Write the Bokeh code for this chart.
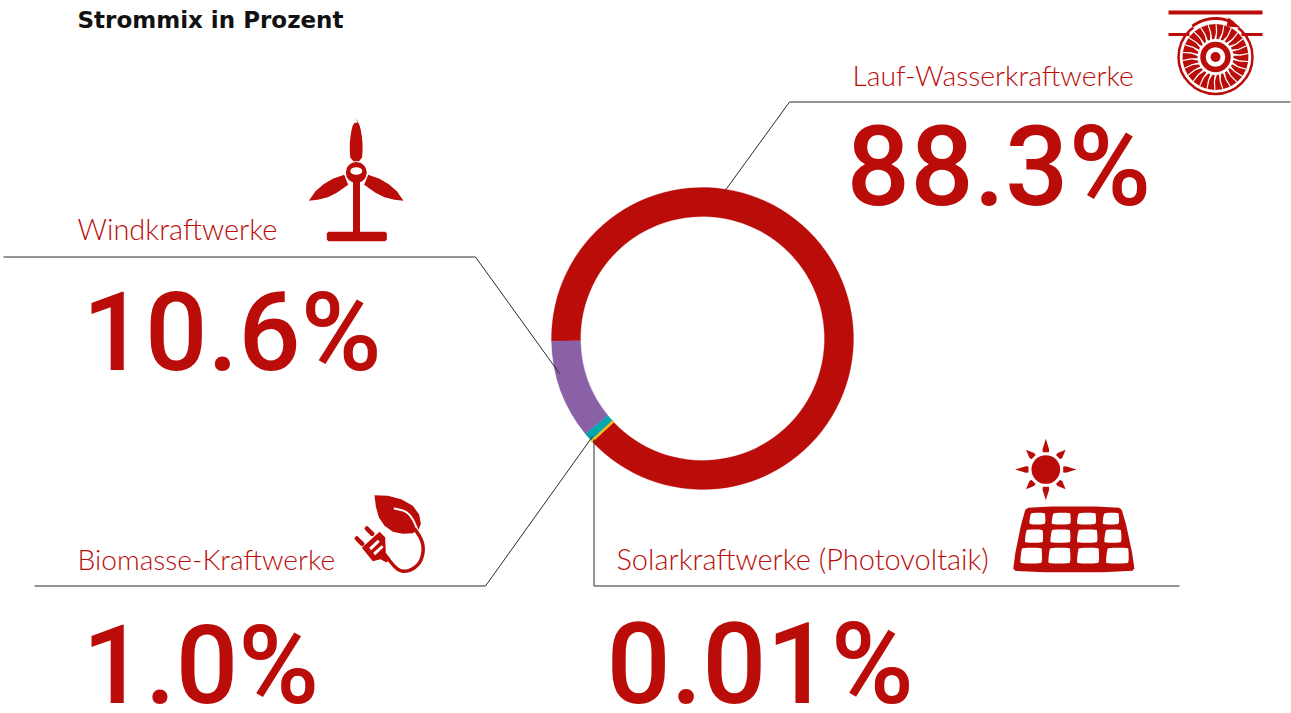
import numpy as np
from bokeh.plotting import figure
from bokeh.models import ColumnDataSource
from bokeh.core.properties import value
from bokeh.embed import file_html
from bokeh.resources import INLINE

W, H = 1291, 713
categories = ["Windkraftwerke", "Biomasse-Kraftwerke", "Solarkraftwerke (Photovoltaik)", "Lauf-Wasserkraftwerke"]
shares = [10.6, 1.0, 0.01, 88.3]
share_labels = ["10.6%", "1.0%", "0.01%", "88.3%"]
slice_colors = ["#8A60A6", "#00A6AE", "#F5B91E", "#BA0C09"]
RED = "#BA0C09"

p = figure(width=W, height=H, x_range=(1, W + 1), y_range=(-1, H - 1), x_axis_type=None, y_axis_type=None,
           output_backend="svg", toolbar_location=None, min_border=0, outline_line_color=None,
           background_fill_color="white", border_fill_color="white")
p.grid.visible = False

def Y(v):
    return H - np.asarray(v, dtype=float)

def smooth(pts, n=2, closed=True):
    pts = np.asarray(pts, dtype=float)
    for _ in range(n):
        a = pts if closed else pts[:-1]
        b = np.roll(pts, -1, axis=0) if closed else pts[1:]
        q = .75 * a + .25 * b
        r = .25 * a + .75 * b
        out = np.empty((2 * len(a), 2))
        out[0::2], out[1::2] = q, r
        if not closed:
            out = np.vstack([pts[0], out, pts[-1]])
        pts = out
    return pts

def poly(pts, ox=0, oy=0, k=1/3, color=RED, sm=0):
    pts = np.asarray(pts, dtype=float)
    if sm:
        pts = smooth(pts, sm)
    p.patch(ox + pts[:, 0] * k, Y(oy + pts[:, 1] * k), fill_color=color, line_color=None)

def stroke(pts, ox=0, oy=0, k=1/3, color=RED, w=3, sm=0):
    pts = np.asarray(pts, dtype=float)
    if sm:
        pts = smooth(pts, sm, closed=False)
    p.line(ox + pts[:, 0] * k, Y(oy + pts[:, 1] * k), line_color=color, line_width=w, line_cap="round", line_join="round")

# donut -------------------------------------------------------------------
vals = np.array(shares)
frac = np.cumsum(vals) / vals.sum() * 2 * np.pi
start0 = np.deg2rad(181)
starts = start0 + np.r_[0, frac[:-1]]
ends = start0 + frac
order = [3, 0, 1, 2]
src = ColumnDataSource(dict(s=starts[order], e=ends[order], c=[slice_colors[i] for i in order]))
p.annular_wedge(x=703, y=float(Y(339)), inner_radius=122, outer_radius=151, start_angle="s", end_angle="e",
                direction="anticlock", fill_color="c", line_color="c", line_width=0.3, source=src)
# the 0.01 % slice is only visible through its outline
p.annular_wedge(x=703, y=float(Y(339)), inner_radius=122, outer_radius=151,
                start_angle=[float(starts[2])], end_angle=[float(ends[2])], direction="anticlock",
                fill_color=slice_colors[2], line_color=slice_colors[2], line_width=2.6)

# leader lines ------------------------------------------------------------
lx = [[725, 790, 1291], [4, 476, 560], [35, 486, 593], [594.5, 594.5, 1180]]
ly = [[192, 102.5, 102.5], [257.5, 257.5, 374], [586.5, 586.5, 437], [440, 586.5, 586.5]]
p.multi_line(lx, [list(Y(v)) for v in ly], line_color="#2a2a2a", line_width=1)

# texts -------------------------------------------------------------------
p.text([78], Y([20]), text=["Strommix in Prozent"], text_font=value("DejaVu Sans"), text_font_style="bold",
       text_font_size="23px", text_color="#111111", text_baseline="alphabetic")
label_x = [853, 78, 78, 617]
label_y = [75, 229, 559, 559]
label_size = ["28.3px", "29px", "28.2px", "29px"]
label_text = [categories[3], categories[0], categories[1], categories[2]]
for x_, y_, s_, t_ in zip(label_x, label_y, label_size, label_text):
    p.text([x_], Y([y_]), text=[t_], text_font=value("Lato Light"), text_font_size=s_, text_color=RED,
           text_baseline="alphabetic")
big_x = [847, 83, 83, 607]
big_y = [167, 333, 666, 665]
big_size = ["112px", "110px", "110px", "113px"]
big_text = [share_labels[3], share_labels[0], share_labels[1], share_labels[2]]
for x_, y_, s_, t_ in zip(big_x, big_y, big_size, big_text):
    p.text([x_], Y([y_]), text=[t_], text_font=value("Roboto Medium"), text_font_size=s_, text_color=RED,
           text_baseline="alphabetic")

# turbine icon --------------------------------------------------------------
cx, cy = 1216, 57.5
p.quad(left=[1169, 1169, 1242], right=[1263, 1190, 1263], top=Y([11, 33.5, 33.5]), bottom=Y([15, 36.5, 36.5]),
       fill_color=RED, line_color=None)
p.circle(x=cx, y=float(Y(cy)), radius=37, fill_color=None, line_color=RED, line_width=2.5)
t = np.deg2rad(np.linspace(127, 52, 30))
p.line(cx + 38.5 * np.cos(t), Y(cy - 38.5 * np.sin(t)), line_color="white", line_width=7)
t = np.deg2rad(np.linspace(127, 62, 30))
p.line(cx + 38.5 * np.cos(t), Y(cy - 38.5 * np.sin(t)), line_color=RED, line_width=3)
poly([(1229, 18), (1241, 28), (1227, 27)], k=1)
for a in np.deg2rad(np.arange(0, 360, 360 / 26)):
    r = np.array([18, 24, 33, 33, 25, 18])
    d = np.deg2rad(np.array([-3, -8, -7, 5, 3, 4]))
    p.patch(cx + r * np.cos(a + d), Y(cy - r * np.sin(a + d)), fill_color=RED, line_color=None)
p.circle(x=cx, y=float(Y(cy)), radius=12.5, fill_color="white", line_color=RED, line_width=5.5)
p.circle(x=cx, y=float(Y(cy)), radius=5, fill_color=RED, line_color=None)

# wind icon -----------------------------------------------------------------
ox, oy = 300, 110
poly(np.vstack([[(170, 26)], smooth([(178, 40), (186, 70), (190, 110), (187, 155), (153, 155), (150, 110), (154, 70), (162, 40)], 1)]), ox, oy)
poly([(28, 274), (48, 245), (72, 224), (100, 208), (134, 196), (146, 226), (112, 250), (85, 263), (55, 271)], ox, oy)
poly([(312, 274), (292, 245), (268, 224), (240, 208), (206, 196), (194, 226), (228, 250), (255, 263), (285, 271)], ox, oy)
p.quad(left=[353.5], right=[360.5], top=Y([180]), bottom=Y([235]), fill_color=RED, line_color=None)
poly([(82, 372), (87, 367), (257, 367), (262, 372), (262, 390), (257, 395), (87, 395), (82, 390)], ox, oy)
p.circle(x=356.8, y=float(Y(173)), radius=10.5, fill_color=RED, line_color=None)
p.ellipse(x=356.8, y=float(Y(171.5)), width=12, height=7.5, fill_color="white", line_color=None)

# leaf / plug icon ----------------------------------------------------------
ox, oy = 345, 485
poly([(90, 32), (130, 34), (170, 44), (205, 64), (224, 90), (229, 118), (222, 136), (205, 146), (175, 148),
      (145, 142), (120, 124), (103, 98), (94, 66)], ox, oy)
stroke([(150, 72), (185, 80), (205, 103), (218, 134)], ox, oy, color="white", w=2, sm=2)
stroke([(212, 135), (232, 165), (238, 200), (225, 240), (190, 262), (160, 258), (130, 222)], ox, oy, w=3.5, sm=2)
poly([(52, 190), (105, 142), (122, 158), (124, 205), (137, 222), (126, 234), (108, 224), (85, 230)], ox, oy)
poly([(74, 190), (100, 166), (106, 172), (80, 197)], ox, oy, color="white")
poly([(86, 205), (112, 182), (117, 188), (92, 212)], ox, oy, color="white")
stroke([(37, 162), (53, 178)], ox, oy, w=4.5)
stroke([(67, 132), (83, 148)], ox, oy, w=4.5)

# solar icon ----------------------------------------------------------------
ox, oy = 1005, 430
sx, sy = 124, 120
p.circle(x=ox + sx / 3, y=float(Y(oy + sy / 3)), radius=43 / 3, fill_color=RED, line_color=None)
for i in range(8):
    a = i * np.pi / 4
    r0, r1 = (52, 92) if i % 2 == 0 else (52, 84)
    u, v = np.cos(a), np.sin(a)
    poly([(sx + r0 * u - 9 * v, sy + r0 * v + 9 * u), (sx + (r0 + 8) * u - 10 * v, sy + (r0 + 8) * v + 10 * u),
          (sx + r1 * u, sy + r1 * v),
          (sx + (r0 + 8) * u + 10 * v, sy + (r0 + 8) * v - 10 * u), (sx + r0 * u + 9 * v, sy + r0 * v - 9 * u)], ox, oy)
poly([(75, 231), (340, 231), (356, 245), (392, 412), (382, 428), (34, 428), (24, 412), (58, 245)], ox, oy, sm=1)
rows = [(250, 285, [(75, 122), (142, 198), (218, 274), (295, 343)]),
        (300, 340, [(62, 115), (138, 197), (218, 278), (300, 350)]),
        (355, 402, [(48, 112), (132, 197), (218, 283), (305, 372)])]
for (top, bot, cols) in rows:
    for (a, b) in cols:
        poly([(a + 8, top), (b - 2, top), (b, top + 6), (b + 1, bot - 6), (b - 4, bot), (a + 2, bot), (a - 1, bot - 6), (a + 3, top + 4)],
             ox, oy, color="white", sm=1)

open("out.html", "w").write(file_html(p, INLINE))
